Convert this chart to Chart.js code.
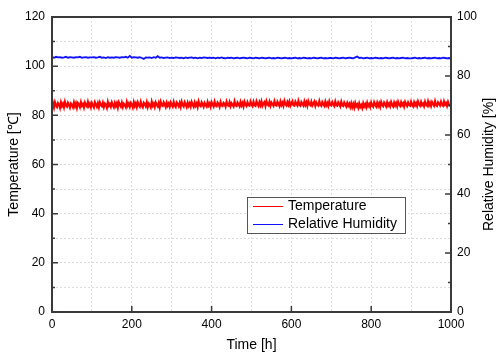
<!DOCTYPE html>
<html>
<head>
<meta charset="utf-8">
<script src="https://cdn.jsdelivr.net/npm/chart.js@4/dist/chart.umd.min.js"></script>
<style>
  html, body { margin: 0; padding: 0; background: #fff; }
  canvas { display: block; }
</style>
</head>
<body>
<canvas id="myChart" width="497" height="354"></canvas>
<script>
const temperature = [
    83.6,84.9,83.2,85.3,84.1,83.4,85.0,84.4,83.1,85.2,83.8,84.7,83.3,85.4,84.0,83.5,85.1,84.3,83.2,84.8,
    84.2,83.3,85.2,83.7,84.9,83.1,85.0,84.5,83.4,85.3,83.9,84.6,83.2,85.1,84.1,83.6,85.4,83.8,84.7,83.3,
    85.0,84.0,83.2,85.3,84.4,83.5,84.9,83.3,85.2,84.2,83.7,85.1,83.4,84.8,84.3,83.1,85.4,83.9,84.6,83.5,
    85.2,84.1,83.3,85.0,83.8,84.9,83.2,85.3,84.4,83.6,85.1,83.4,84.7,84.2,83.3,85.4,83.9,84.8,83.5,85.0,
    84.3,83.2,85.3,83.8,84.9,83.4,85.2,84.1,83.5,85.4,84.0,83.3,85.1,84.6,83.7,85.3,83.4,84.8,84.2,83.3,
    85.5,83.9,84.7,83.4,85.2,84.3,83.6,85.0,83.3,85.4,84.1,83.8,85.3,84.5,83.4,85.1,83.9,84.8,83.5,85.2,
    84.2,83.5,85.4,84.0,83.4,85.2,84.6,83.7,85.0,83.5,85.5,84.2,83.6,85.3,84.4,83.4,85.1,83.9,84.9,83.6,
    85.4,84.3,83.5,85.2,83.9,84.8,83.4,85.5,84.1,83.7,85.3,84.5,83.5,85.0,84.2,83.6,85.4,84.0,84.8,83.5,
    85.3,84.4,83.6,85.5,84.0,83.7,85.2,84.6,83.5,85.4,84.1,83.8,85.1,84.7,83.6,85.5,84.2,83.9,85.3,83.7,
    84.9,84.3,83.6,85.6,84.1,83.8,85.2,84.5,83.7,85.4,84.0,85.0,83.6,85.5,84.4,83.8,85.3,84.2,83.9,85.6,
    84.5,83.8,85.5,84.2,83.9,85.7,84.6,83.8,85.3,84.1,85.6,83.9,84.8,85.4,83.8,85.7,84.4,84.0,85.5,83.9,
    85.2,84.6,83.9,85.7,84.3,84.0,85.5,84.7,83.8,85.6,84.2,85.1,83.9,85.8,84.5,84.0,85.4,84.3,85.6,83.9,
    84.8,85.7,84.1,83.9,85.5,84.6,84.0,85.8,84.3,83.9,85.4,84.7,84.0,85.6,84.2,85.3,83.9,85.7,84.5,84.1,
    85.5,84.0,84.8,85.6,83.9,85.2,84.4,84.0,85.7,84.2,83.8,85.4,84.6,83.9,85.5,84.1,85.0,83.8,85.6,84.3,
    84.0,85.4,84.5,83.8,85.6,84.2,83.9,85.3,84.6,83.7,85.5,84.1,83.8,85.2,84.4,83.6,85.0,83.9,84.7,83.4,
    84.9,83.3,84.6,83.2,85.0,83.7,84.4,83.1,84.8,83.4,84.2,83.0,84.9,83.6,84.5,83.3,85.1,83.8,84.6,83.4,
    85.2,84.0,83.5,85.3,84.4,83.6,85.1,83.8,84.9,83.5,85.4,84.2,83.7,85.2,84.5,83.6,85.3,84.0,84.8,83.7,
    85.4,84.3,83.6,85.2,84.0,85.0,83.7,85.5,84.4,83.8,85.3,84.1,84.9,83.6,85.4,84.5,83.8,85.2,84.2,83.9,
    85.5,84.4,83.7,85.3,84.1,85.0,83.8,85.6,84.5,83.9,85.4,84.2,84.8,83.7,85.5,84.3,83.9,85.6,84.1,85.1,
    83.8,85.4,84.6,83.9,85.7,84.2,83.8,85.3,84.7,84.0,85.5,84.3,83.9,85.6,84.4,85.0,83.8,85.4,84.2,83.9,
    84.6
];

const humidity = [
    86.4,86.2,86.5,86.3,86.4,86.2,86.3,86.5,86.2,86.4,86.3,86.2,86.4,86.3,86.5,86.2,86.3,86.4,86.2,86.3,
    86.3,86.4,86.2,86.3,86.5,86.2,86.3,86.1,86.4,86.2,86.3,86.2,86.4,86.3,86.2,86.4,86.3,86.5,86.2,86.8,
    86.2,86.4,86.3,86.2,86.4,86.1,85.8,86.3,86.2,86.3,86.1,86.4,86.2,86.7,86.2,86.3,86.1,86.2,86.3,86.1,
    86.2,86.1,86.3,86.2,86.1,86.2,86.0,86.3,86.1,86.2,86.3,86.1,86.2,86.0,86.2,86.1,86.3,86.2,86.1,86.2,
    86.1,86.2,86.0,86.2,86.1,86.3,86.1,86.0,86.2,86.1,86.2,86.0,86.1,86.2,86.0,86.1,86.2,86.1,86.0,86.2,
    86.1,86.0,86.2,86.1,86.0,86.2,86.1,86.0,86.1,86.2,86.0,86.1,86.0,86.2,86.1,86.0,86.1,86.2,86.0,86.1,
    86.0,86.1,86.2,86.0,86.1,86.0,86.2,86.1,86.0,86.1,86.0,86.2,86.1,86.0,86.1,86.2,86.0,86.1,86.0,86.1,
    86.1,86.0,86.2,86.1,86.0,86.1,86.2,86.0,86.1,86.2,86.1,86.0,86.3,86.6,86.1,86.2,86.0,86.1,86.2,86.0,
    86.1,86.0,86.2,86.1,86.0,86.1,86.0,86.2,86.1,86.0,86.1,86.2,86.0,86.1,86.0,86.1,86.2,86.0,86.1,86.0,
    86.0,86.1,86.2,86.0,86.1,86.0,86.1,86.2,86.0,86.1,86.0,86.1,86.2,86.0,86.1,86.0,86.2,86.1,86.0,86.1,
    86.0
];

const tempTimes = temperature.map((_, i) => i * 2.5);
const humTimes = humidity.map((_, i) => i * 5);

const xMajorTicks = [0, 200, 400, 600, 800, 1000];

const FONT = '"Liberation Sans", Arial, sans-serif';
const FRAME = '#3a3a3a';

// inward tick marks, frame, right title and the legend box
const decorations = {
    id: 'decorations',
    afterDraw(chart) {
        const c = chart.ctx;
        const a = chart.chartArea;
        const x = chart.scales.x, yl = chart.scales.y, yr = chart.scales.y1;
        c.save();
        c.strokeStyle = FRAME;
        c.lineWidth = 2;
        c.strokeRect(a.left, a.top, a.right - a.left, a.bottom - a.top);

        c.lineWidth = 1.5;
        c.beginPath();
        xMajorTicks.forEach(v => {
            const px = x.getPixelForValue(v);
            c.moveTo(px, a.bottom); c.lineTo(px, a.bottom - 6);
        });
        for (let v = 0; v <= 120; v += 10) {
            const py = yl.getPixelForValue(v);
            const len = v % 20 === 0 ? 6 : 3;
            c.moveTo(a.left, py); c.lineTo(a.left + len, py);
        }
        for (let v = 0; v <= 100; v += 10) {
            const py = yr.getPixelForValue(v);
            const len = v % 20 === 0 ? 6 : 3;
            c.moveTo(a.right, py); c.lineTo(a.right - len, py);
        }
        c.stroke();

        // right axis title reads bottom to top like the left one
        c.fillStyle = '#000';
        c.font = '14px ' + FONT;
        c.textAlign = 'center';
        c.textBaseline = 'middle';
        c.translate(489, (a.top + a.bottom) / 2);
        c.rotate(-Math.PI / 2);
        c.fillText('Relative Humidity [%]', 0, 0);
        c.restore();

        // legend
        c.save();
        c.fillStyle = '#fff';
        c.fillRect(247, 197, 158, 36);
        c.strokeStyle = '#555';
        c.lineWidth = 1;
        c.strokeRect(247.5, 197.5, 158, 36);
        c.font = '14px ' + FONT;
        c.textAlign = 'left';
        c.textBaseline = 'middle';
        chart.data.datasets.forEach((ds, i) => {
            const y = 206 + i * 18;
            c.strokeStyle = ds.borderColor;
            c.lineWidth = 1;
            c.beginPath();
            c.moveTo(253, y + 0.5); c.lineTo(283, y + 0.5);
            c.stroke();
            c.fillStyle = '#000';
            c.fillText(ds.label, 288, y);
        });
        c.restore();
    }
};

const ctx = document.getElementById('myChart').getContext('2d');
const myChart = new Chart(ctx, {
    type: 'line',
    data: {
        datasets: [{
            label: 'Temperature',
            data: tempTimes.map((t, i) => ({ x: t, y: temperature[i] })),
            borderColor: '#ff0000',
            borderWidth: 2.2,
            pointRadius: 0,
            tension: 0,
            yAxisID: 'y'
        }, {
            label: 'Relative Humidity',
            data: humTimes.map((t, i) => ({ x: t, y: humidity[i] })),
            borderColor: '#1010ff',
            borderWidth: 1.8,
            pointRadius: 0,
            tension: 0,
            yAxisID: 'y1'
        }]
    },
    options: {
        responsive: false,
        animation: false,
        events: [],
        layout: { padding: { top: 17, left: 0, right: 0, bottom: 0 } },
        plugins: { legend: { display: false }, tooltip: { enabled: false } },
        scales: {
            x: {
                type: 'linear',
                min: 0, max: 1000,
                afterFit(s) { s.height = 42; },
                grid: { color: '#dcdcdc', lineWidth: 1, drawTicks: false },
                border: { display: false, dash: [2, 2] },
                ticks: {
                    stepSize: 100,
                    padding: 5,
                    color: '#000',
                    font: { family: FONT, size: 12 },
                    maxRotation: 0,
                    autoSkip: false,
                    callback: v => (v % 200 === 0 ? v : '')
                },
                title: {
                    display: true,
                    text: 'Time [h]',
                    color: '#000',
                    font: { family: FONT, size: 14 },
                    padding: { top: 0, bottom: 0 }
                }
            },
            y: {
                position: 'left',
                min: 0, max: 120,
                afterFit(s) { s.width = 52; },
                grid: { color: '#dcdcdc', lineWidth: 1, drawTicks: false },
                border: { display: false, dash: [2, 2] },
                ticks: {
                    stepSize: 10,
                    padding: 7,
                    color: '#000',
                    font: { family: FONT, size: 12 },
                    autoSkip: false,
                    callback: v => (v % 20 === 0 ? v : '')
                },
                title: {
                    display: true,
                    text: 'Temperature [℃]',
                    color: '#000',
                    font: { family: FONT, size: 14 },
                    padding: { top: 6, bottom: 0 }
                }
            },
            y1: {
                position: 'right',
                min: 0, max: 100,
                afterFit(s) { s.width = 46; },
                grid: { display: false, drawTicks: false },
                border: { display: false },
                ticks: {
                    stepSize: 10,
                    padding: 6,
                    color: '#000',
                    font: { family: FONT, size: 12 },
                    autoSkip: false,
                    callback: v => (v % 20 === 0 ? v : '')
                }
            }
        }
    },
    plugins: [decorations]
});
</script>
</body>
</html>
